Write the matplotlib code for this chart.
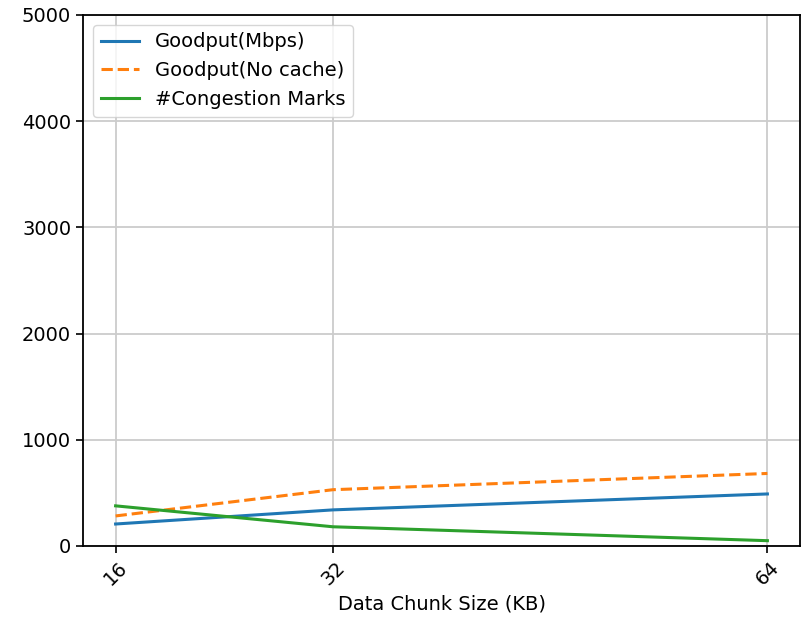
import matplotlib
matplotlib.use("Agg")
import matplotlib.pyplot as plt

# chunk sizes in KB
chunk_sizes = [16, 32, 64]
goodput = [207, 340, 490]
goodput_no_cache = [283, 530, 683]
congestion_marks = [378, 181, 50]

fig = plt.figure(figsize=(8.02, 6.22), dpi=100)
ax = fig.add_axes([0.1035, 0.1222, 0.894, 0.8537])

ax.plot(chunk_sizes, goodput, color="#1f77b4", linewidth=2.2, label="Goodput(Mbps)")
ax.plot(chunk_sizes, goodput_no_cache, color="#ff7f0e", linewidth=2.2, linestyle="--", label="Goodput(No cache)")
ax.plot(chunk_sizes, congestion_marks, color="#2ca02c", linewidth=2.2, label="#Congestion Marks")

ax.set_ylim(0, 5000)
ax.set_xticks(chunk_sizes)
ax.set_xticklabels([str(c) for c in chunk_sizes], rotation=45, fontsize=14)
ax.tick_params(axis="y", labelsize=14)
ax.tick_params(length=5, width=1.2)
for s in ax.spines.values():
    s.set_linewidth(1.3)
ax.set_xlabel("Data Chunk Size (KB)", fontsize=14)
ax.grid(True, color="#cccccc", linewidth=1.3)
ax.legend(loc="upper left", fontsize=14)

plt.savefig("out.png", dpi=100)
